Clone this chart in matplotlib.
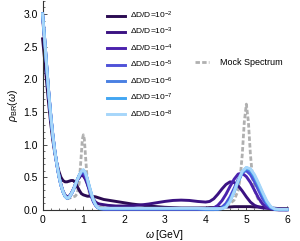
import matplotlib
matplotlib.use('Agg')
import matplotlib.pyplot as plt
from matplotlib.ticker import MultipleLocator
import numpy as np

plt.rcParams['font.family'] = ['Liberation Sans', 'DejaVu Sans']
plt.rcParams['mathtext.fontset'] = 'custom'
plt.rcParams['mathtext.rm'] = 'Liberation Sans'
plt.rcParams['mathtext.it'] = 'Liberation Sans:italic'

# omega grid (GeV) the curves are read on
omega = [0.0, 0.05, 0.1, 0.15, 0.2, 0.25, 0.3, 0.35, 0.4, 0.45, 0.5, 0.55, 0.6, 0.65,
         0.7, 0.75, 0.8, 0.85, 0.9, 0.95, 1.0, 1.05, 1.1, 1.15, 1.2, 1.25, 1.3, 1.35, 1.4,
         1.5, 1.6, 1.8, 2.0, 2.2, 2.4, 2.6, 2.8, 3.0, 3.2, 3.4, 3.6, 3.8,
         4.0, 4.1, 4.2, 4.3, 4.4, 4.5, 4.6, 4.7, 4.8, 4.9, 5.0, 5.1, 5.2, 5.3, 5.4,
         5.5, 5.6, 5.7, 5.8, 5.9, 6.0]

rho_1e2 = [2.62, 2.30, 1.95, 1.62, 1.32, 1.07, 0.87, 0.71, 0.59, 0.50, 0.45, 0.43, 0.43, 0.44,
           0.45, 0.45, 0.42, 0.36, 0.30, 0.25, 0.23, 0.22, 0.21, 0.21, 0.21, 0.205, 0.20, 0.19, 0.18,
           0.16, 0.15, 0.13, 0.11, 0.09, 0.075, 0.06, 0.05, 0.04, 0.035, 0.03, 0.03, 0.03,
           0.03, 0.035, 0.035, 0.04, 0.04, 0.045, 0.045, 0.05, 0.05, 0.05, 0.05, 0.05, 0.045, 0.045, 0.04,
           0.035, 0.03, 0.025, 0.02, 0.02, 0.02]
rho_1e3 = [2.95, 2.58, 2.17, 1.78, 1.43, 1.13, 0.89, 0.69, 0.52, 0.39, 0.29, 0.23, 0.20, 0.21,
           0.25, 0.31, 0.38, 0.45, 0.50, 0.53, 0.52, 0.47, 0.39, 0.30, 0.22, 0.16, 0.12, 0.10, 0.09,
           0.08, 0.07, 0.06, 0.06, 0.065, 0.075, 0.09, 0.11, 0.13, 0.145, 0.15, 0.145, 0.13,
           0.12, 0.13, 0.17, 0.24, 0.32, 0.39, 0.43, 0.42, 0.37, 0.29, 0.20, 0.12, 0.07, 0.045, 0.03,
           0.025, 0.02, 0.02, 0.015, 0.015, 0.01]
rho_1e4 = [3.0, 2.62, 2.2, 1.8, 1.45, 1.15, 0.9, 0.7, 0.52, 0.38, 0.28, 0.21, 0.18, 0.19,
           0.24, 0.30, 0.38, 0.45, 0.51, 0.55, 0.55, 0.50, 0.41, 0.30, 0.20, 0.12, 0.07, 0.04, 0.025,
           0.015, 0.01, 0.01, 0.01, 0.01, 0.01, 0.01, 0.01, 0.01, 0.01, 0.01, 0.01, 0.01,
           0.01, 0.015, 0.03, 0.07, 0.14, 0.24, 0.36, 0.47, 0.55, 0.56, 0.51, 0.42, 0.30, 0.18, 0.09,
           0.04, 0.015, 0.005, 0.0, 0.0, 0.0]
rho_1e5 = [3.0, 2.62, 2.2, 1.8, 1.45, 1.15, 0.9, 0.7, 0.52, 0.38, 0.28, 0.21, 0.18, 0.19,
           0.24, 0.30, 0.38, 0.46, 0.53, 0.57, 0.58, 0.53, 0.44, 0.32, 0.21, 0.13, 0.07, 0.035, 0.02,
           0.01, 0.01, 0.01, 0.01, 0.01, 0.01, 0.01, 0.01, 0.01, 0.01, 0.01, 0.01, 0.01,
           0.005, 0.005, 0.005, 0.01, 0.04, 0.10, 0.20, 0.33, 0.47, 0.58, 0.60, 0.54, 0.43, 0.30, 0.17,
           0.08, 0.03, 0.01, 0.005, 0.005, 0.005]
rho_1e6 = [3.0, 2.62, 2.2, 1.8, 1.45, 1.15, 0.9, 0.7, 0.52, 0.38, 0.28, 0.21, 0.18, 0.19,
           0.24, 0.30, 0.38, 0.46, 0.53, 0.58, 0.60, 0.56, 0.46, 0.34, 0.23, 0.14, 0.08, 0.04, 0.02,
           0.015, 0.015, 0.015, 0.015, 0.015, 0.015, 0.015, 0.015, 0.015, 0.015, 0.015, 0.015, 0.015,
           0.01, 0.01, 0.01, 0.01, 0.02, 0.06, 0.15, 0.28, 0.43, 0.57, 0.63, 0.60, 0.50, 0.37, 0.23,
           0.11, 0.04, 0.01, 0.005, 0.005, 0.005]
rho_1e7 = [3.0, 2.62, 2.2, 1.8, 1.45, 1.15, 0.9, 0.7, 0.52, 0.38, 0.28, 0.21, 0.18, 0.19,
           0.24, 0.30, 0.38, 0.46, 0.53, 0.59, 0.61, 0.57, 0.47, 0.35, 0.24, 0.15, 0.08, 0.04, 0.02,
           0.02, 0.02, 0.02, 0.02, 0.02, 0.02, 0.02, 0.02, 0.02, 0.02, 0.02, 0.02, 0.02,
           0.015, 0.015, 0.015, 0.015, 0.02, 0.05, 0.14, 0.28, 0.44, 0.58, 0.645, 0.62, 0.52, 0.39, 0.25,
           0.12, 0.04, 0.01, 0.005, 0.005, 0.005]
rho_1e8 = [3.0, 2.62, 2.2, 1.8, 1.45, 1.15, 0.9, 0.7, 0.52, 0.38, 0.28, 0.21, 0.18, 0.19,
           0.24, 0.30, 0.38, 0.46, 0.53, 0.59, 0.615, 0.57, 0.47, 0.35, 0.24, 0.15, 0.08, 0.04, 0.025,
           0.025, 0.025, 0.025, 0.025, 0.025, 0.025, 0.025, 0.025, 0.025, 0.025, 0.025, 0.025, 0.025,
           0.02, 0.02, 0.02, 0.02, 0.02, 0.04, 0.13, 0.28, 0.45, 0.59, 0.65, 0.63, 0.54, 0.41, 0.27,
           0.14, 0.05, 0.015, 0.01, 0.01, 0.01]

mock_omega = [0.6, 0.7, 0.8, 0.85, 0.9, 0.95, 0.975, 1.0, 1.025, 1.05, 1.1, 1.15, 1.2, 1.3, 1.4,
              1.6, 2.0, 3.0, 4.0, 4.4, 4.5, 4.6, 4.7, 4.8, 4.85, 4.9, 4.95, 5.0, 5.05, 5.1, 5.15,
              5.2, 5.3, 5.4, 5.5, 5.6, 5.8, 6.0]
mock_rho = [0.17, 0.19, 0.21, 0.25, 0.42, 0.85, 1.08, 1.15, 1.08, 0.85, 0.42, 0.25, 0.2, 0.12, 0.06,
            0.02, 0.01, 0.01, 0.01, 0.03, 0.06, 0.1, 0.15, 0.3, 0.5, 0.85, 1.35, 1.62, 1.35, 0.85, 0.5,
            0.3, 0.15, 0.1, 0.06, 0.03, 0.01, 0.0]

curves = [rho_1e2, rho_1e3, rho_1e4, rho_1e5, rho_1e6, rho_1e7, rho_1e8]
exponents = ['-2', '-3', '-4', '-5', '-6', '-7', '-8']
colors = ['#2b0b52', '#3b1282', '#4b22ad', '#4f52d8', '#4a80e2', '#42a6f2', '#a6d6fa']

fig = plt.figure(figsize=(3.0, 2.41), dpi=100)
ax = fig.add_axes([0.142, 0.129, 0.815, 0.867])

mock_line, = ax.plot(mock_omega, mock_rho, color='#b0b0b0', lw=2.0,
                     dashes=(1.6, 0.8), zorder=1, clip_on=False)

lines = []
for i, (rho, e, c) in enumerate(zip(curves, exponents, colors)):
    ln, = ax.plot(omega, rho, color=c, lw=2.1, solid_joinstyle='round',
                  label='ΔD/D=10$^{%s}$' % e.replace('-', '{-}'), zorder=2 + i, clip_on=False)
    lines.append(ln)

ax.set_xlim(0, 6)
ax.set_ylim(0, 3.2)
ax.spines['top'].set_visible(False)
ax.spines['right'].set_visible(False)
for s in ['left', 'bottom']:
    ax.spines[s].set_color('#333333')
    ax.spines[s].set_linewidth(0.8)

ax.xaxis.set_major_locator(MultipleLocator(1))
ax.xaxis.set_minor_locator(MultipleLocator(0.2))
ax.yaxis.set_major_locator(MultipleLocator(0.5))
ax.yaxis.set_minor_locator(MultipleLocator(0.1))
ax.tick_params(which='major', direction='in', length=3, width=0.6, labelsize=7.5, color='#333333')
ax.tick_params(which='minor', direction='in', length=1.6, width=0.5, color='#333333')
ax.set_xticks([0, 1, 2, 3, 4, 5, 6])
ax.set_xticklabels(['0', '1', '2', '3', '4', '5', '6'])
ax.set_yticks([0, 0.5, 1.0, 1.5, 2.0, 2.5, 3.0])
ax.set_yticklabels(['0.0', '0.5', '1.0', '1.5', '2.0', '2.5', '3.0'])

ax.set_xlabel(r'$\mathit{\omega}$ [GeV]', fontsize=7.5, labelpad=2)
ax.set_ylabel(r'$\mathit{\rho}_{\mathrm{BR}}(\mathit{\omega})$', fontsize=7.5, labelpad=2)

leg1 = ax.legend(handles=lines, loc='upper left', bbox_to_anchor=(0.357, 0.96),
                 bbox_transform=fig.transFigure, frameon=False, fontsize=6,
                 handlelength=2.2, handletextpad=0.6, labelspacing=0.62,
                 borderpad=0, borderaxespad=0)
ax.add_artist(leg1)
ax.legend(handles=[mock_line], labels=['Mock Spectrum'], loc='center left',
          bbox_to_anchor=(0.65, 0.74), bbox_transform=fig.transFigure, frameon=False,
          fontsize=6.5, handlelength=1.6, handletextpad=1.2, borderpad=0, borderaxespad=0)

fig.savefig('out.png', dpi=100)
